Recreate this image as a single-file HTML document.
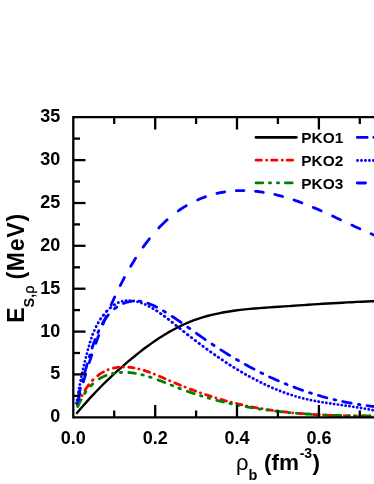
<!DOCTYPE html>
<html><head><meta charset="utf-8"><title>chart</title>
<style>html,body{margin:0;padding:0;background:#fff;overflow:hidden;}body{width:374px;height:484px;position:relative;overflow:hidden;font-family:"Liberation Sans",sans-serif;}</style>
</head><body>
<svg width="394" height="494" viewBox="0 0 394 494" style="position:absolute;left:0;top:0;filter:blur(0.35px)">
<g fill="none" stroke-linecap="round" stroke-linejoin="round" stroke-width="2.8">
<path d="M77.0,413.0 L80.1,409.2 L83.2,405.7 L86.4,402.1 L89.7,398.4 L93.0,394.9 L96.2,391.5 L99.6,388.0 L103.0,384.5 L106.5,381.1 L109.9,377.9 L113.5,374.5 L117.1,371.2 L120.6,368.1 L124.3,364.9 L128.0,361.6 L131.8,358.5 L135.5,355.5 L139.4,352.4 L143.3,349.3 L147.1,346.5 L151.1,343.6 L155.2,340.7 L159.3,338.0 L163.3,335.5 L167.5,332.9 L171.8,330.5 L176.1,328.2 L180.3,326.1 L184.7,324.0 L189.1,322.1 L193.4,320.4 L198.0,318.8 L202.6,317.4 L207.2,316.0 L211.7,314.9 L216.4,313.8 L221.2,312.8 L226.0,312.0 L230.6,311.2 L235.4,310.5 L240.3,309.9 L244.9,309.4 L249.8,308.9 L254.7,308.5 L259.7,308.1 L264.4,307.7 L269.3,307.4 L274.3,307.0 L279.2,306.7 L283.9,306.4 L288.9,306.1 L293.8,305.7 L298.5,305.4 L303.5,305.1 L308.4,304.8 L313.3,304.4 L318.0,304.1 L322.9,303.8 L327.8,303.5 L332.5,303.2 L337.4,303.0 L342.3,302.7 L347.2,302.4 L351.8,302.2 L356.7,301.9 L361.5,301.7 L366.4,301.5 L371.0,301.3 L375.8,301.2" stroke="#000" stroke-width="2.4"/>
<path d="M77.6,405.3 L77.9,404.6 L78.2,404.0 L78.5,403.2 L78.8,402.4 L79.1,401.6 L79.4,401.0 L79.7,400.2 M81.9,395.7 L81.9,395.7 L82.0,395.6 L82.0,395.5 L82.1,395.4 M84.9,390.5 L85.4,389.7 L85.9,388.8 L86.5,388.0 L87.1,387.1 L87.7,386.2 L88.3,385.4 L88.9,384.7 M92.4,380.5 L92.4,380.5 L92.6,380.3 L92.7,380.2 L92.8,380.1 L92.9,380.0 L93.1,379.8 L93.1,379.8 M97.7,375.7 L98.4,375.1 L99.3,374.5 L100.1,373.9 L100.9,373.4 L101.8,372.9 L102.7,372.3 L103.5,371.9 M108.0,369.8 L108.1,369.8 L108.2,369.8 L108.2,369.7 M113.4,368.1 L114.1,368.0 L114.9,367.8 L115.6,367.7 L116.5,367.5 L117.2,367.4 L118.0,367.3 L118.7,367.2 M123.4,367.0 L123.5,367.0 L123.5,367.0 M128.8,367.2 L129.5,367.3 L130.3,367.3 L131.1,367.4 L131.8,367.5 L132.6,367.7 L133.4,367.8 L134.1,367.9 M138.8,368.9 L138.9,369.0 L138.9,369.0 M144.1,370.4 L144.8,370.7 L145.7,370.9 L146.5,371.2 L147.2,371.5 L148.0,371.7 L148.8,372.0 L149.6,372.3 M154.2,374.1 L154.2,374.1 L154.3,374.1 L154.4,374.2 M159.5,376.3 L160.2,376.6 L161.0,376.9 L161.8,377.3 L162.6,377.6 L163.4,378.0 L164.2,378.3 L165.0,378.7 M169.6,380.7 L169.6,380.7 L169.7,380.7 L169.8,380.8 M174.9,382.9 L175.6,383.2 L176.4,383.6 L177.2,383.9 L177.9,384.2 L178.8,384.5 L179.6,384.9 L180.4,385.2 M185.0,387.0 L185.0,387.0 L185.1,387.1 L185.2,387.1 M190.3,389.1 L191.0,389.4 L191.8,389.6 L192.6,389.9 L193.4,390.3 L194.2,390.6 L194.9,390.8 L195.7,391.1 M200.4,392.8 L200.4,392.8 L200.5,392.8 L200.5,392.8 M205.7,394.6 L206.5,394.9 L207.2,395.1 L208.0,395.4 L208.8,395.6 L209.6,395.9 L210.3,396.1 L211.1,396.4 M215.8,397.9 L215.8,397.9 L215.9,397.9 M221.1,399.4 L221.8,399.7 L222.6,399.9 L223.4,400.1 L224.1,400.3 L225.0,400.5 L225.7,400.8 L226.5,401.0 M231.2,402.2 L231.2,402.2 L231.3,402.2 M236.5,403.5 L237.2,403.7 L238.0,403.9 L238.8,404.1 L239.6,404.3 L240.3,404.4 L241.2,404.6 L241.9,404.8 M246.6,405.8 L246.6,405.8 L246.7,405.8 M251.9,406.9 L252.5,407.0 L253.4,407.2 L254.1,407.3 L255.0,407.5 L255.7,407.6 L256.6,407.8 L257.2,407.9 M262.0,408.7 L262.1,408.7 L262.1,408.7 M267.3,409.6 L268.0,409.7 L268.8,409.8 L269.6,409.9 L270.3,410.0 L271.1,410.2 L271.9,410.3 L272.6,410.4 M277.4,411.0 L277.4,411.0 L277.4,411.0 M282.7,411.7 L283.3,411.8 L284.2,411.9 L284.9,412.0 L285.7,412.0 L286.4,412.1 L287.3,412.2 L288.0,412.3 M292.7,412.8 L292.8,412.8 L292.8,412.8 M298.1,413.3 L298.8,413.4 L299.5,413.4 L300.3,413.5 L301.1,413.6 L301.9,413.6 L302.7,413.7 L303.4,413.7 M308.1,414.1 L308.2,414.1 L308.2,414.1 M313.5,414.5 L314.2,414.5 L315.0,414.6 L315.7,414.6 L316.6,414.7 L317.3,414.7 L318.1,414.7 L318.8,414.8 M323.5,415.0 L323.5,415.0 L323.6,415.0 M328.9,415.3 L329.5,415.3 L330.3,415.3 L331.0,415.3 L331.9,415.4 L332.7,415.4 L333.4,415.4 L334.2,415.5 M338.9,415.6 L339.0,415.6 L339.0,415.6 M344.2,415.7 L344.9,415.8 L345.7,415.8 L346.4,415.8 L347.3,415.8 L348.1,415.8 L348.9,415.8 L349.6,415.8 M354.3,415.9 L354.3,415.9 L354.4,415.9 M359.6,416.0 L360.4,416.0 L361.2,416.0 L361.9,416.0 L362.7,416.0 L363.5,416.0 L364.3,416.0 L364.9,416.0 M369.7,416.0 L369.8,416.0 L369.8,416.0 M374.9,416.0 L375.0,416.0 L375.0,416.0" stroke="#f00"/>
<path d="M77.8,406.6 L78.2,405.6 L78.6,404.7 L79.0,403.7 L79.5,402.7 L80.0,401.7 L80.4,400.7 L81.0,399.7 M84.6,393.6 L84.8,393.4 L85.0,393.1 L85.1,392.9 L85.4,392.5 L85.6,392.2 L85.8,391.9 L85.9,391.7 M90.6,386.1 L90.9,385.8 L91.2,385.5 L91.5,385.2 L91.8,384.8 L92.1,384.5 L92.4,384.2 L92.7,384.0 M99.2,378.9 L100.2,378.3 L101.1,377.8 L102.1,377.2 L103.1,376.8 L104.2,376.3 L105.1,375.9 L106.1,375.5 M112.5,373.6 L112.7,373.5 L112.9,373.5 L113.1,373.4 L113.4,373.4 L113.6,373.3 L113.8,373.3 L114.0,373.3 M120.3,372.5 L120.4,372.5 L120.6,372.4 L120.8,372.4 L121.1,372.4 L121.3,372.4 L121.5,372.4 L121.7,372.4 M128.8,372.5 L129.7,372.6 L130.7,372.7 L131.6,372.8 L132.7,372.9 L133.6,373.0 L134.6,373.2 L135.4,373.3 M141.9,374.7 L142.1,374.8 L142.3,374.8 L142.5,374.9 L142.8,374.9 L143.0,375.0 L143.2,375.0 L143.3,375.1 M149.5,376.9 L149.7,377.0 L150.0,377.1 L150.2,377.1 L150.4,377.2 L150.6,377.3 L150.9,377.4 L151.1,377.4 M158.1,379.9 L159.0,380.3 L159.9,380.6 L160.9,381.0 L162.0,381.4 L163.0,381.8 L163.9,382.2 L164.8,382.5 M171.1,385.1 L171.3,385.1 L171.6,385.2 L171.8,385.3 L172.1,385.4 L172.3,385.5 L172.6,385.6 L172.7,385.7 M178.8,388.1 L179.0,388.2 L179.3,388.3 L179.5,388.4 L179.8,388.5 L180.0,388.6 L180.3,388.7 L180.4,388.7 M187.4,391.3 L188.4,391.6 L189.3,392.0 L190.3,392.3 L191.2,392.6 L192.3,393.0 L193.2,393.3 L194.2,393.6 M200.5,395.7 L200.7,395.7 L201.0,395.8 L201.2,395.9 L201.4,395.9 L201.6,396.0 L201.9,396.1 L202.0,396.1 M208.2,398.0 L208.4,398.0 L208.6,398.1 L208.8,398.1 L209.1,398.2 L209.3,398.3 L209.5,398.3 L209.7,398.4 M216.8,400.3 L217.7,400.5 L218.7,400.8 L219.7,401.0 L220.6,401.3 L221.5,401.5 L222.6,401.7 L223.5,402.0 M229.9,403.5 L230.0,403.5 L230.3,403.5 L230.5,403.6 L230.8,403.7 L231.0,403.7 L231.2,403.7 L231.4,403.8 M237.6,405.1 L237.8,405.1 L238.0,405.2 L238.2,405.2 L238.5,405.3 L238.7,405.3 L238.9,405.4 L239.0,405.4 M246.1,406.7 L247.1,406.9 L248.0,407.1 L248.9,407.2 L250.0,407.4 L250.9,407.6 L251.9,407.7 L252.8,407.9 M259.2,408.9 L259.4,409.0 L259.6,409.0 L259.9,409.0 L260.1,409.1 L260.3,409.1 L260.5,409.1 L260.7,409.1 M266.9,410.0 L267.1,410.1 L267.3,410.1 L267.5,410.1 L267.7,410.1 L268.0,410.2 L268.2,410.2 L268.4,410.2 M275.5,411.1 L276.4,411.2 L277.4,411.3 L278.3,411.4 L279.3,411.6 L280.2,411.7 L281.2,411.8 L282.1,411.9 M288.6,412.5 L288.8,412.5 L289.0,412.6 L289.2,412.6 L289.4,412.6 L289.7,412.6 L289.9,412.6 L290.0,412.7 M296.3,413.2 L296.5,413.2 L296.7,413.2 L296.9,413.3 L297.1,413.3 L297.3,413.3 L297.5,413.3 L297.7,413.3 M304.8,413.9 L305.7,413.9 L306.7,414.0 L307.6,414.0 L308.6,414.1 L309.6,414.2 L310.5,414.2 L311.4,414.3 M317.9,414.6 L318.1,414.7 L318.3,414.7 L318.5,414.7 L318.8,414.7 L319.0,414.7 L319.2,414.7 L319.3,414.7 M325.6,415.0 L325.8,415.0 L326.0,415.0 L326.3,415.0 L326.5,415.0 L326.7,415.1 L326.9,415.1 L327.0,415.1 M334.2,415.3 L335.1,415.4 L336.0,415.4 L337.0,415.4 L338.0,415.5 L338.9,415.5 L339.9,415.5 L340.8,415.5 M347.3,415.7 L347.4,415.7 L347.7,415.7 L347.9,415.7 L348.1,415.7 L348.3,415.7 L348.5,415.7 L348.7,415.7 M355.0,415.8 L355.1,415.8 L355.3,415.8 L355.5,415.9 L355.7,415.9 L356.0,415.9 L356.2,415.9 L356.4,415.9 M363.5,416.0 L364.4,416.0 L365.4,416.0 L366.3,416.0 L367.2,416.0 L368.2,416.0 L369.1,416.0 L370.1,416.0 M375.7,416.0 L375.8,416.0" stroke="#008000"/>
<path d="M76.6,403.0 L76.6,403.0 L76.6,402.9 M77.1,399.9 L77.1,399.8 L77.1,399.8 M77.7,396.0 L77.7,396.0 L77.7,395.9 M78.4,392.2 L78.4,392.2 L78.4,392.1 M79.1,388.3 L79.1,388.3 L79.1,388.2 M79.8,384.5 L79.9,384.4 L79.9,384.4 M80.6,380.6 L80.6,380.6 L80.6,380.5 M81.4,376.8 L81.4,376.7 M82.2,372.9 L82.3,372.8 L82.3,372.8 M83.1,369.1 L83.1,369.0 L83.1,369.0 M84.0,365.2 L84.0,365.2 L84.0,365.1 M84.9,361.4 L84.9,361.3 L84.9,361.3 M85.9,357.5 L85.9,357.4 M86.9,353.7 L86.9,353.6 L86.9,353.6 M87.9,349.8 L87.9,349.7 M89.0,346.0 L89.0,345.8 M90.1,342.1 L90.2,342.0 L90.2,342.0 M91.4,338.3 L91.4,338.2 L91.4,338.1 M92.7,334.4 L92.8,334.3 L92.8,334.2 M94.3,330.6 L94.3,330.5 L94.4,330.4 L94.4,330.4 M96.1,326.8 L96.1,326.7 L96.2,326.6 L96.2,326.5 M98.1,323.0 L98.1,322.9 L98.2,322.8 L98.3,322.7 L98.3,322.6 M100.5,319.2 L100.5,319.1 L100.6,319.0 L100.7,318.9 L100.7,318.7 L100.8,318.7 M103.2,315.4 L103.3,315.3 L103.4,315.2 L103.4,315.1 L103.5,314.9 L103.6,314.8 L103.7,314.8 M106.4,311.6 L106.5,311.6 L106.6,311.4 L106.7,311.3 L106.8,311.2 L106.9,311.1 L107.1,310.8 L107.2,310.8 M110.2,307.9 L110.3,307.8 L110.4,307.7 L110.6,307.6 L110.7,307.6 L110.8,307.5 L110.9,307.4 L110.9,307.4 M114.2,304.9 L114.3,304.8 L114.4,304.8 L114.5,304.7 L114.7,304.6 L114.7,304.6 M118.2,302.7 L118.2,302.7 L118.3,302.7 L118.4,302.6 L118.4,302.6 M122.1,301.3 L122.2,301.3 L122.2,301.3 M126.0,300.6 L126.0,300.6 L126.1,300.6 M129.8,300.6 L129.8,300.6 L129.9,300.6 M133.7,301.0 L133.8,301.0 L133.8,301.0 M137.5,301.8 L137.6,301.8 L137.6,301.8 M141.4,303.0 L141.4,303.0 L141.5,303.0 L141.5,303.1 M145.2,304.5 L145.2,304.5 L145.3,304.6 L145.4,304.6 M149.0,306.4 L149.0,306.4 L149.1,306.4 L149.2,306.5 L149.3,306.5 M152.8,308.5 L152.9,308.5 L153.0,308.6 L153.1,308.7 L153.2,308.7 M156.6,310.8 L156.7,310.9 L156.8,311.0 L156.9,311.0 L157.0,311.1 L157.1,311.1 M160.4,313.4 L160.5,313.5 L160.6,313.6 L160.8,313.7 L160.9,313.7 L161.0,313.8 M164.3,316.2 L164.3,316.3 L164.5,316.4 L164.6,316.4 L164.7,316.5 L164.8,316.6 L164.8,316.6 M168.1,319.1 L168.1,319.2 L168.2,319.2 L168.3,319.3 L168.5,319.4 L168.6,319.5 L168.7,319.6 L168.7,319.6 M171.9,322.2 L172.0,322.2 L172.1,322.3 L172.2,322.4 L172.3,322.4 L172.4,322.5 L172.5,322.6 L172.6,322.6 M175.8,325.2 L175.9,325.3 L176.0,325.4 L176.1,325.5 L176.2,325.6 L176.3,325.7 L176.4,325.7 M179.7,328.3 L179.7,328.3 L179.8,328.4 L179.9,328.5 L180.0,328.6 L180.1,328.7 L180.2,328.8 L180.3,328.8 M183.5,331.4 L183.5,331.4 L183.6,331.5 L183.8,331.6 L183.9,331.6 L184.0,331.7 L184.1,331.8 L184.1,331.8 M187.4,334.4 L187.4,334.4 L187.5,334.5 L187.6,334.6 L187.7,334.7 L187.8,334.7 L187.9,334.8 L188.0,334.9 M191.2,337.4 L191.3,337.5 L191.4,337.6 L191.5,337.6 L191.6,337.7 L191.7,337.8 L191.8,337.8 M195.1,340.4 L195.1,340.4 L195.2,340.5 L195.3,340.6 L195.5,340.6 L195.6,340.7 L195.7,340.8 M198.9,343.3 L199.0,343.3 L199.1,343.4 L199.2,343.5 L199.3,343.5 L199.4,343.6 L199.5,343.7 L199.5,343.7 M202.8,346.2 L202.9,346.2 L203.0,346.3 L203.1,346.4 L203.2,346.5 L203.3,346.5 L203.3,346.6 M206.7,349.0 L206.7,349.0 L206.8,349.1 L206.9,349.2 L207.0,349.3 L207.1,349.4 L207.2,349.4 M210.5,351.8 L210.5,351.8 L210.6,351.9 L210.7,352.0 L210.8,352.0 L211.0,352.1 L211.0,352.2 M214.4,354.5 L214.4,354.5 L214.5,354.6 L214.6,354.7 L214.7,354.8 L214.8,354.8 L214.9,354.9 M218.2,357.2 L218.3,357.2 L218.4,357.3 L218.5,357.4 L218.6,357.4 L218.7,357.5 L218.7,357.6 M222.1,359.8 L222.2,359.9 L222.3,359.9 L222.4,360.0 L222.5,360.1 L222.6,360.1 M226.0,362.4 L226.0,362.4 L226.1,362.5 L226.2,362.5 L226.3,362.6 L226.4,362.7 M229.8,364.9 L229.8,364.9 L230.0,365.0 L230.1,365.0 L230.2,365.1 L230.3,365.2 M233.7,367.3 L233.7,367.4 L233.9,367.4 L234.0,367.5 L234.1,367.6 L234.1,367.6 M237.5,369.7 L237.6,369.7 L237.7,369.8 L237.8,369.8 L237.9,369.9 L238.0,369.9 M241.4,372.0 L241.5,372.0 L241.6,372.1 L241.7,372.1 L241.8,372.2 M245.3,374.2 L245.3,374.2 L245.4,374.3 L245.5,374.3 L245.6,374.4 L245.6,374.4 M249.1,376.4 L249.1,376.4 L249.3,376.4 L249.4,376.5 L249.5,376.6 M253.0,378.5 L253.0,378.5 L253.2,378.5 L253.3,378.6 L253.3,378.6 M256.9,380.5 L257.0,380.5 L257.1,380.6 L257.2,380.6 M260.7,382.4 L260.8,382.5 L260.9,382.5 L261.0,382.6 M264.6,384.3 L264.7,384.3 L264.8,384.4 L264.9,384.4 M268.4,386.1 L268.5,386.1 L268.6,386.2 L268.7,386.2 M272.3,387.8 L272.4,387.8 L272.5,387.9 L272.5,387.9 M276.2,389.4 L276.3,389.5 L276.4,389.5 L276.4,389.5 M280.0,391.0 L280.1,391.0 L280.2,391.0 M283.9,392.4 L284.0,392.5 L284.1,392.5 M287.8,393.8 L287.8,393.8 L287.9,393.9 M291.6,395.1 L291.7,395.1 L291.8,395.1 M295.5,396.3 L295.6,396.3 L295.6,396.3 M299.3,397.4 L299.4,397.4 L299.4,397.4 M303.2,398.4 L303.3,398.4 L303.3,398.4 M307.1,399.3 L307.2,399.3 L307.2,399.3 M310.9,400.2 L310.9,400.2 L311.0,400.2 M314.8,400.9 L314.8,400.9 L314.9,400.9 M318.6,401.6 L318.7,401.7 M322.5,402.3 L322.5,402.3 L322.6,402.3 M326.3,402.9 L326.3,402.9 L326.4,402.9 M330.2,403.5 L330.3,403.5 M334.0,404.1 L334.1,404.1 L334.1,404.1 M337.9,404.6 L337.9,404.6 L338.0,404.6 M341.7,405.1 L341.8,405.1 L341.8,405.2 M345.6,405.7 L345.6,405.7 L345.7,405.7 M349.4,406.2 L349.5,406.2 M353.3,406.8 L353.4,406.8 M357.1,407.4 L357.2,407.4 M361.0,408.0 L361.1,408.0 L361.1,408.0 M364.9,408.7 L364.9,408.7 L364.9,408.7 M368.7,409.4 L368.8,409.4 L368.8,409.4 M372.6,410.2 L372.6,410.2 L372.7,410.2 M375.5,410.8 L375.5,410.9 L375.6,410.9" stroke="#00f"/>
<path d="M76.8,403.5 L76.8,403.4 L76.8,403.4 M78.3,396.7 L78.6,395.5 L78.9,394.4 L79.2,393.1 L79.5,391.8 L79.9,390.5 L80.1,389.4 L80.4,388.2 M82.4,381.1 L82.4,380.9 L82.5,380.7 L82.6,380.4 L82.6,380.2 L82.7,379.9 L82.8,379.6 L82.8,379.4 M84.8,372.4 L85.2,371.2 L85.5,369.9 L85.9,368.7 L86.2,367.5 L86.6,366.3 L86.9,365.0 L87.2,363.9 M89.3,356.8 L89.4,356.6 L89.4,356.4 L89.5,356.1 L89.6,355.8 L89.7,355.5 L89.8,355.3 L89.8,355.1 M92.1,348.1 L92.4,346.9 L92.9,345.7 L93.3,344.4 L93.7,343.2 L94.2,341.9 L94.7,340.7 L95.1,339.5 M98.0,332.5 L98.1,332.3 L98.2,332.0 L98.3,331.8 L98.5,331.4 L98.6,331.1 L98.7,330.9 L98.8,330.7 M102.3,323.8 L103.1,322.5 L103.8,321.2 L104.7,319.8 L105.5,318.6 L106.5,317.3 L107.4,316.1 L108.3,314.9 M114.6,308.7 L114.8,308.5 L115.1,308.3 L115.4,308.0 L115.9,307.7 L116.2,307.5 L116.5,307.3 L116.7,307.1 M123.5,303.4 L124.7,302.9 L125.9,302.5 L127.1,302.1 L128.4,301.8 L129.6,301.5 L130.9,301.3 L132.1,301.1 M139.2,301.1 L139.5,301.1 L139.7,301.2 L139.9,301.2 L140.2,301.2 L140.4,301.3 L140.7,301.3 L140.9,301.3 M147.9,303.2 L149.2,303.7 L150.4,304.2 L151.7,304.7 L152.9,305.2 L154.1,305.8 L155.4,306.5 L156.6,307.1 M163.4,310.9 L163.7,311.1 L163.9,311.2 L164.2,311.4 L164.6,311.6 L164.9,311.8 L165.1,312.0 L165.4,312.1 M172.1,316.4 L173.4,317.2 L174.6,318.0 L175.9,318.9 L177.2,319.8 L178.5,320.7 L179.7,321.5 L181.0,322.4 M187.7,327.1 L187.9,327.2 L188.2,327.5 L188.6,327.7 L188.9,327.9 L189.2,328.2 L189.6,328.4 L189.8,328.6 M196.4,333.3 L197.6,334.2 L199.0,335.1 L200.3,336.0 L201.5,336.9 L202.8,337.8 L204.1,338.7 L205.3,339.6 M212.1,344.1 L212.4,344.4 L212.6,344.5 L212.9,344.7 L213.3,344.9 L213.6,345.2 L213.8,345.3 L214.1,345.5 M220.8,349.9 L222.0,350.6 L223.3,351.4 L224.5,352.2 L225.9,353.1 L227.1,353.8 L228.5,354.7 L229.7,355.4 M236.5,359.5 L236.7,359.6 L236.9,359.7 L237.3,359.9 L237.6,360.1 L238.0,360.3 L238.2,360.5 L238.4,360.6 M245.2,364.4 L246.4,365.1 L247.7,365.8 L248.9,366.5 L250.2,367.2 L251.5,367.8 L252.7,368.5 L254.0,369.1 M260.9,372.7 L261.1,372.8 L261.3,372.9 L261.7,373.1 L261.9,373.2 L262.3,373.4 L262.5,373.5 L262.7,373.6 M269.6,376.9 L270.8,377.5 L272.0,378.0 L273.3,378.6 L274.5,379.1 L275.8,379.7 L277.0,380.2 L278.3,380.8 M285.2,383.7 L285.4,383.8 L285.7,383.9 L286.0,384.0 L286.2,384.1 L286.5,384.2 L286.8,384.4 L287.1,384.5 M294.0,387.2 L295.2,387.6 L296.4,388.1 L297.6,388.5 L299.0,389.0 L300.2,389.5 L301.4,389.9 L302.6,390.3 M309.6,392.7 L309.8,392.8 L310.0,392.8 L310.3,392.9 L310.7,393.0 L310.9,393.1 L311.2,393.2 L311.4,393.3 M318.4,395.4 L319.5,395.7 L320.8,396.1 L322.1,396.5 L323.2,396.8 L324.5,397.1 L325.7,397.5 L326.9,397.8 M334.0,399.6 L334.1,399.6 L334.4,399.7 L334.7,399.7 L335.0,399.8 L335.3,399.9 L335.6,399.9 L335.7,400.0 M342.8,401.5 L343.8,401.8 L345.1,402.0 L346.3,402.3 L347.6,402.5 L348.8,402.8 L350.1,403.0 L351.2,403.2 M358.4,404.4 L358.5,404.5 L358.8,404.5 L359.1,404.5 L359.3,404.6 L359.6,404.6 L359.8,404.7 L360.0,404.7 M367.1,405.7 L368.3,405.8 L369.3,406.0 L370.6,406.1 L371.8,406.3 L373.0,406.4 L374.1,406.5 L375.3,406.7" stroke="#00f"/>
<path d="M77.9,401.1 L78.1,400.1 L78.4,399.0 L78.8,397.9 L79.1,396.6 L79.4,395.5 L79.7,394.4 L80.0,393.3 M83.3,381.9 L83.7,380.8 L84.0,379.6 L84.4,378.5 L84.7,377.4 L85.0,376.3 L85.4,375.0 L85.7,374.0 M89.3,362.6 L89.6,361.5 L90.0,360.3 L90.4,359.2 L90.8,358.0 L91.1,356.9 L91.5,355.7 L91.8,354.8 M95.8,343.3 L96.2,342.2 L96.6,341.2 L97.0,339.9 L97.4,338.9 L97.8,337.7 L98.2,336.6 L98.7,335.5 M103.0,324.1 L103.5,323.0 L103.9,321.9 L104.4,320.7 L104.9,319.5 L105.4,318.3 L105.8,317.2 L106.2,316.2 M111.1,304.8 L111.7,303.6 L112.1,302.6 L112.7,301.4 L113.2,300.3 L113.7,299.1 L114.2,298.0 L114.8,296.9 M120.2,285.6 L120.8,284.5 L121.4,283.3 L122.0,282.1 L122.6,281.0 L123.2,279.8 L123.8,278.6 L124.4,277.5 M130.7,266.3 L131.3,265.2 L132.1,264.0 L132.8,262.8 L133.5,261.7 L134.2,260.5 L135.0,259.3 L135.6,258.2 M143.1,247.1 L144.0,245.9 L144.9,244.6 L145.8,243.5 L146.7,242.3 L147.6,241.1 L148.6,239.9 L149.4,238.8 M158.8,227.9 L159.9,226.8 L161.1,225.6 L162.3,224.4 L163.5,223.3 L164.7,222.1 L165.9,220.9 L167.2,219.8 M178.2,211.0 L179.2,210.2 L180.3,209.5 L181.5,208.7 L182.8,207.8 L184.0,207.1 L185.2,206.4 L186.3,205.7 M197.6,199.9 L198.7,199.4 L199.7,199.0 L200.9,198.5 L202.1,198.0 L203.3,197.6 L204.3,197.2 L205.5,196.8 M216.9,193.4 L217.9,193.2 L219.0,193.0 L220.2,192.7 L221.4,192.5 L222.5,192.3 L223.6,192.1 L224.7,191.9 M236.3,190.7 L237.4,190.7 L238.4,190.6 L239.5,190.6 L240.7,190.6 L241.8,190.6 L242.8,190.6 L244.0,190.6 M255.5,191.3 L256.6,191.4 L257.7,191.5 L258.9,191.6 L259.9,191.8 L261.1,191.9 L262.2,192.1 L263.3,192.3 M274.8,194.5 L275.8,194.7 L277.0,195.0 L278.1,195.3 L279.3,195.6 L280.4,195.9 L281.6,196.2 L282.6,196.5 M294.0,200.0 L295.1,200.4 L296.3,200.8 L297.4,201.2 L298.6,201.6 L299.8,202.1 L300.9,202.5 L301.9,202.8 M313.3,207.4 L314.3,207.9 L315.6,208.4 L316.7,208.8 L317.9,209.4 L319.0,209.8 L320.2,210.4 L321.2,210.8 M332.5,216.0 L333.6,216.5 L334.8,217.1 L336.0,217.7 L337.1,218.2 L338.2,218.7 L339.4,219.3 L340.5,219.8 M351.8,225.1 L352.9,225.6 L354.0,226.2 L355.2,226.7 L356.4,227.3 L357.6,227.8 L358.7,228.3 L359.8,228.8 M371.1,233.8 L371.5,234.0 L372.0,234.2 L372.3,234.3 L372.8,234.5 L373.2,234.7 L373.7,234.9 L374.0,235.0" stroke="#00f"/>
</g>
<g stroke="#000" stroke-width="2.3" fill="none" stroke-linecap="butt">
<path d="M392,117.2 H73.3 V417.3 H392"/>
<path d="M114.2,417.3 v-6.7 M114.2,117.2 v6.7"/>
<path d="M155.2,417.3 v-12.2 M155.2,117.2 v12.2"/>
<path d="M196.1,417.3 v-6.7 M196.1,117.2 v6.7"/>
<path d="M237.0,417.3 v-12.2 M237.0,117.2 v12.2"/>
<path d="M277.9,417.3 v-6.7 M277.9,117.2 v6.7"/>
<path d="M318.9,417.3 v-12.2 M318.9,117.2 v12.2"/>
<path d="M359.8,417.3 v-6.7 M359.8,117.2 v6.7"/>
<path d="M73.3,395.9 h6.7"/>
<path d="M73.3,374.4 h12.2"/>
<path d="M73.3,353.0 h6.7"/>
<path d="M73.3,331.6 h12.2"/>
<path d="M73.3,310.1 h6.7"/>
<path d="M73.3,288.7 h12.2"/>
<path d="M73.3,267.3 h6.7"/>
<path d="M73.3,245.8 h12.2"/>
<path d="M73.3,224.4 h6.7"/>
<path d="M73.3,203.0 h12.2"/>
<path d="M73.3,181.5 h6.7"/>
<path d="M73.3,160.1 h12.2"/>
<path d="M73.3,138.6 h6.7"/>
</g>
<g fill="none" stroke-linecap="round" stroke-width="2.8">
<path d="M256,137.4 H296.3" stroke="#000"/>
<path d="M256,160.2 H296.3" stroke="#f00" stroke-dasharray="5.4 5.2 0.1 4.9"/>
<path d="M256,182.9 H296.3" stroke="#008000" stroke-dasharray="6.8 6.6 1.2 6.8 1.2 6.8"/>
<path d="M357.3,137.4 H367.2 M373.7,137.4 h1" stroke="#00f"/>
<path d="M357.5,160.5 H380" stroke="#00f" stroke-dasharray="0.1 3.87"/>
<path d="M357.3,183 H365.5" stroke="#00f"/>
</g>
<g font-family="'Liberation Sans', sans-serif" font-weight="bold" fill="#000">
<text x="60.3" y="422.2" font-size="18" text-anchor="end">0</text>
<text x="60.3" y="379.3" font-size="18" text-anchor="end">5</text>
<text x="60.3" y="336.5" font-size="18" text-anchor="end">10</text>
<text x="60.3" y="293.6" font-size="18" text-anchor="end">15</text>
<text x="60.3" y="250.7" font-size="18" text-anchor="end">20</text>
<text x="60.3" y="207.9" font-size="18" text-anchor="end">25</text>
<text x="60.3" y="165.0" font-size="18" text-anchor="end">30</text>
<text x="60.3" y="122.1" font-size="18" text-anchor="end">35</text>
<text x="73.3" y="444" font-size="18" text-anchor="middle">0.0</text>
<text x="155.2" y="444" font-size="18" text-anchor="middle">0.2</text>
<text x="237.0" y="444" font-size="18" text-anchor="middle">0.4</text>
<text x="318.9" y="444" font-size="18" text-anchor="middle">0.6</text>
<text x="301.3" y="143.4" font-size="15.4">PKO1</text>
<text x="301.3" y="166.3" font-size="15.4">PKO2</text>
<text x="301.3" y="189.2" font-size="15.4">PKO3</text>
<text x="236.0" y="470.2" font-size="22.5"><tspan font-weight="normal" font-size="22">ρ</tspan><tspan dy="9.4" font-size="14.5">b</tspan><tspan dy="-9.4" dx="0.4" font-size="22.5"> (fm</tspan><tspan dy="-12.6" dx="0.6" font-size="14">-3</tspan><tspan dy="12.6" dx="0.4" font-size="22.5">)</tspan></text>
<text transform="translate(24.2,322.8) rotate(-90)" font-size="23">E<tspan dy="9.8" font-size="14.5">S,<tspan font-weight="normal" font-size="14.5" stroke="#000" stroke-width="0.3">ρ</tspan></tspan><tspan dy="-9.8" dx="-1.2" font-size="23" letter-spacing="0.75"> (MeV)</tspan></text>
</g>
</svg>
</body></html>
